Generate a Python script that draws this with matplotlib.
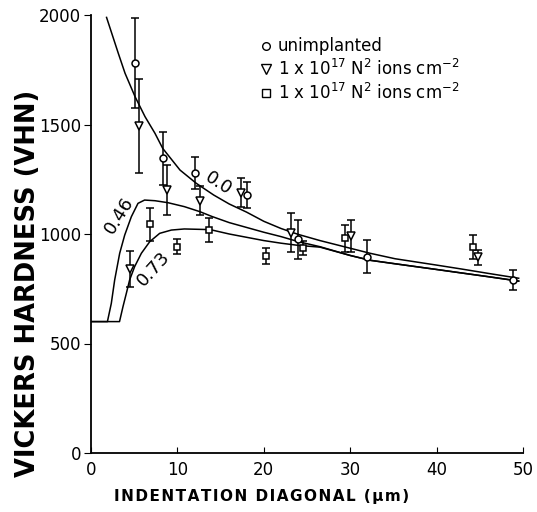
import matplotlib

matplotlib.use("Agg")

import matplotlib.pyplot as plt  # noqa: E402
from matplotlib.lines import Line2D  # noqa: E402

# Points mesurés (diagonale en µm, dureté VHN, demi-barre d'erreur)
circ_x = [5.1, 8.3, 12.0, 18.0, 24.0, 32.0, 48.8]
circ_y = [1780, 1346, 1280, 1178, 976, 897, 790]
circ_err = [205, 122, 73, 61, 90, 75, 46]

tri_x = [4.5, 5.6, 8.8, 12.6, 17.4, 23.1, 30.1, 44.8]
tri_y = [839, 1493, 1201, 1152, 1189, 1006, 991, 893]
tri_err = [82, 215, 112, 67, 65, 88, 74, 33]

sq_x = [6.8, 10.0, 13.7, 20.3, 24.5, 29.4, 44.25]
sq_y = [1044, 942, 1018, 900, 935, 980, 939]
sq_err = [75, 33, 53, 35, 33, 62, 55]

# Courbes modèle
c00_x = [1.8, 3.16, 3.94, 5.1, 6.25, 7.4, 8.3, 10.3, 12.2, 14.2, 16.0, 18.0,
         20.0, 22.0, 24.0, 26.5, 30.0, 32.3, 35.2, 40.0, 42.9, 46.0, 49.5]
c00_y = [1989, 1825, 1734, 1627, 1536, 1460, 1391, 1292, 1231, 1178, 1137, 1100,
         1058, 1025, 998, 970, 935, 912, 887, 858, 840, 820, 798]

c046_x = [0.0, 1.9, 2.35, 2.74, 3.32, 3.9, 4.67, 5.44, 6.2, 7.4, 8.9, 10.8,
          12.6, 14.0, 16.0, 18.0, 20.0, 22.0, 24.0, 26.5, 30.0, 32.3, 35.2,
          40.0, 42.9, 46.0, 49.5]
c046_y = [600, 600, 683, 790, 912, 995, 1079, 1140, 1155, 1152, 1143, 1125,
          1102, 1080, 1052, 1030, 1008, 988, 965, 942, 902, 880, 864,
          838, 822, 805, 785]

c073_x = [0.0, 3.3, 3.7, 4.09, 4.47, 5.05, 5.83, 6.8, 7.95, 9.3, 10.8, 13.8,
          16.0, 18.0, 20.0, 22.0, 24.0, 26.5, 30.0, 32.3, 35.2, 40.0, 42.9,
          46.0, 49.5]
c073_y = [600, 600, 668, 729, 790, 851, 912, 965, 1003, 1018, 1023, 1020,
          1000, 985, 970, 958, 948, 940, 902, 880, 864, 838, 822, 805, 785]

curve_labels = ["0.0", "0.46", "0.73"]
label_pos = [(14.7, 1232), (3.3, 1087), (7.2, 843)]
label_rot = [-33, 58, 48]

legend_labels = [
    "unimplanted",
    r"1 x 10$^{17}$ N$^{2}$ ions cm$^{-2}$",
    r"1 x 10$^{17}$ N$^{2}$ ions cm$^{-2}$",
]

x_ticks = [0, 10, 20, 30, 40, 50]
y_ticks = [0, 500, 1000, 1500, 2000]

fig = plt.figure(figsize=(5.37, 5.12), dpi=100)
ax = fig.add_axes([91 / 537, 59 / 512, 432 / 537, 438 / 512])

for cx, cy in [(c00_x, c00_y), (c046_x, c046_y), (c073_x, c073_y)]:
    ax.plot(cx, cy, color="black", linewidth=1.1)

err_kw = dict(ecolor="black", elinewidth=1.1, capsize=2.6, capthick=1.1,
              linestyle="none", mec="black", mfc="white", mew=1.1)
ax.errorbar(circ_x, circ_y, yerr=circ_err, marker="o", ms=5, **err_kw)
ax.errorbar(tri_x, tri_y, yerr=tri_err, marker="v", ms=6, **err_kw)
ax.errorbar(sq_x, sq_y, yerr=sq_err, marker="s", ms=5, **err_kw)

for txt, (lx, ly), rot in zip(curve_labels, label_pos, label_rot):
    ax.text(lx, ly, txt, rotation=rot, fontsize=13, ha="center", va="center",
            rotation_mode="anchor")

handles = [
    Line2D([], [], marker="o", ls="none", mec="black", mfc="white", ms=5.5),
    Line2D([], [], marker="v", ls="none", mec="black", mfc="white", ms=6.5),
    Line2D([], [], marker="s", ls="none", mec="black", mfc="white", ms=5.5),
]
ax.legend(handles, legend_labels, loc="upper left",
          bbox_to_anchor=(0.375, 0.968), frameon=False, fontsize=12,
          handlelength=0.6, handletextpad=0.4, labelspacing=0.22,
          borderpad=0.0)

ax.set_xlim(0, 50)
ax.set_ylim(0, 2000)
ax.set_xticks(x_ticks)
ax.set_yticks(y_ticks)
ax.tick_params(axis="x", direction="in", length=4, labelsize=12, pad=6)
ax.tick_params(axis="y", direction="out", length=5, labelsize=12, pad=2)
for side in ("top", "right"):
    ax.spines[side].set_visible(False)
for side in ("left", "bottom"):
    ax.spines[side].set_linewidth(1.3)

fig.text(28 / 537, 1 - 283 / 512, "VICKERS HARDNESS (VHN)", rotation=90,
         fontsize=18.5, fontweight="bold", ha="center", va="center")
fig.text(262 / 537, 1 - 497 / 512,
         "\u200a".join("INDENTATION DIAGONAL (µm)"),
         fontsize=11, fontweight="bold", ha="center", va="center")

fig.savefig("out.png", dpi=100)
